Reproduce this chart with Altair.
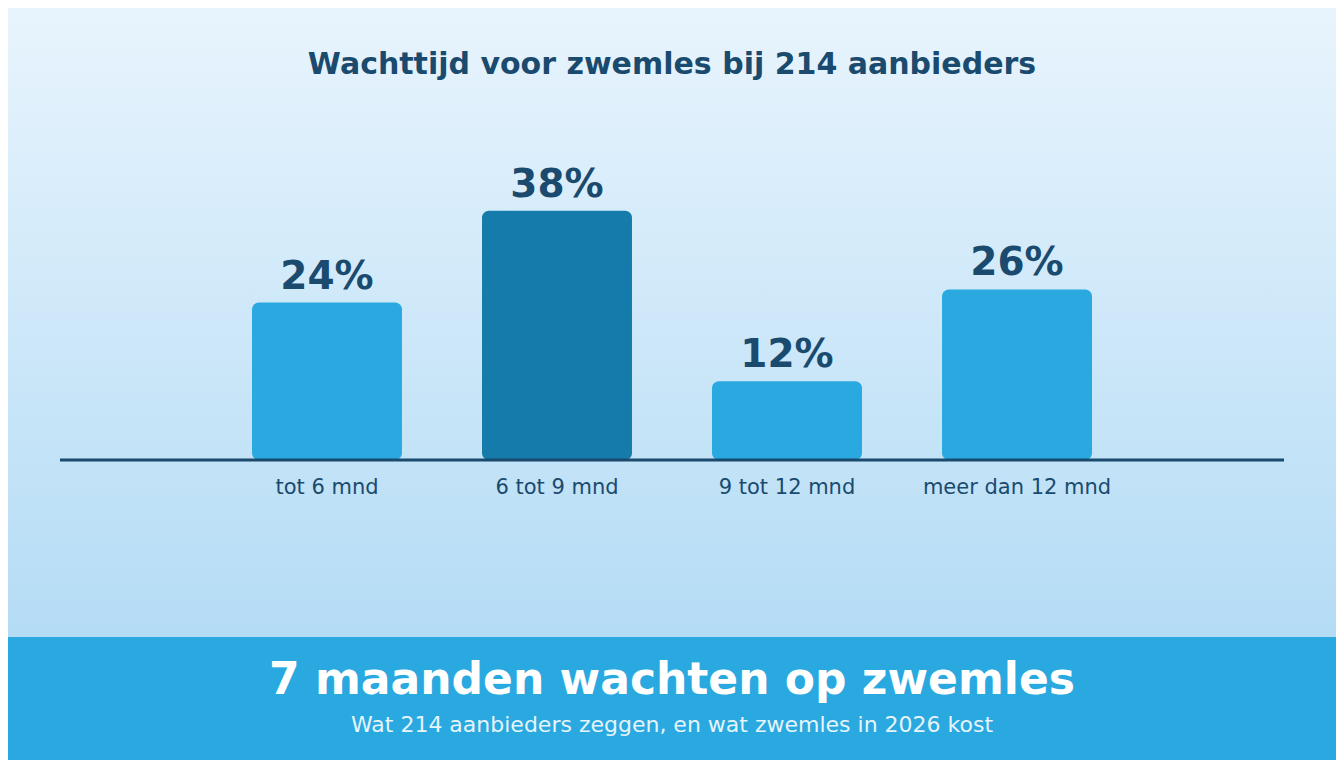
import pandas as pd
import altair as alt

# data
categories = ["tot 6 mnd", "6 tot 9 mnd", "9 tot 12 mnd", "meer dan 12 mnd"]
shares = [24, 38, 12, 26]
tone = ["normaal", "hoog", "normaal", "normaal"]

title_text = "Wachttijd voor zwemles bij 214 aanbieders"
headline = "7 maanden wachten op zwemles"
subline = "Wat 214 aanbieders zeggen, en wat zwemles in 2026 kost"

W, H = 1328, 752
CX = W / 2
DARK = "#1a4a6e"

df = pd.DataFrame({"cat": categories, "share": shares, "tone": tone})
df["label"] = df["share"].astype(str) + "%"
one = pd.DataFrame({"k": [0]})

x_enc = alt.X("cat:N", sort=categories, axis=None,
              scale=alt.Scale(paddingInner=0.348, paddingOuter=0, range=[244, 1084]))
y_scale = alt.Scale(domain=[-45.73, 68.9], nice=False, zero=False)

gradient = alt.LinearGradient(
    gradient="linear",
    stops=[alt.GradientStop(color="#e8f4fd", offset=0),
           alt.GradientStop(color="#b4dcf5", offset=0.836),
           alt.GradientStop(color="#b4dcf5", offset=1)],
    x1=0, x2=0, y1=0, y2=1,
)

bg = alt.Chart(one).mark_rect(fill=gradient).encode(
    x=alt.value(0), x2=alt.value("width"), y=alt.value(0), y2=alt.value("height")
)

banner = alt.Chart(one).mark_rect(fill="#29a9e0").encode(
    x=alt.value(0), x2=alt.value("width"), y=alt.value(629), y2=alt.value("height")
)

bars = alt.Chart(df).mark_bar(cornerRadius=7).encode(
    x=x_enc,
    y=alt.Y("share:Q", scale=y_scale, axis=None),
    y2=alt.Y2(datum=0),
    color=alt.Color("tone:N", scale=alt.Scale(domain=["normaal", "hoog"],
                                              range=["#29a9e0", "#147bab"]), legend=None),
)

baseline = alt.Chart(one).mark_rule(color=DARK, strokeWidth=3).encode(
    x=alt.value(52), x2=alt.value(1276), y=alt.Y(datum=0, scale=y_scale, axis=None)
)

values = alt.Chart(df).mark_text(
    font="DejaVu Sans", fontWeight="bold", fontSize=39, color=DARK,
    baseline="alphabetic", dy=-14
).encode(x=x_enc, y=alt.Y("share:Q", scale=y_scale, axis=None), text="label:N")

cat_labels = alt.Chart(df).mark_text(
    font="DejaVu Sans", fontSize=21, color=DARK, baseline="alphabetic", dy=34
).encode(x=x_enc, y=alt.Y(datum=0, scale=y_scale, axis=None), text="cat:N")

title = alt.Chart(pd.DataFrame({"t": [title_text]})).mark_text(
    font="DejaVu Sans", fontWeight="bold", fontSize=30, color=DARK, baseline="alphabetic"
).encode(x=alt.value(CX), y=alt.value(66), text="t:N")

head = alt.Chart(pd.DataFrame({"t": [headline]})).mark_text(
    font="DejaVu Sans", fontWeight="bold", fontSize=44, color="white", baseline="alphabetic"
).encode(x=alt.value(CX), y=alt.value(686), text="t:N")

sub = alt.Chart(pd.DataFrame({"t": [subline]})).mark_text(
    font="DejaVu Sans", fontSize=22, color="#e6f4fc", baseline="alphabetic"
).encode(x=alt.value(CX), y=alt.value(724), text="t:N")

chart = alt.layer(bg, banner, bars, baseline, values, cat_labels, title, head, sub).properties(
    width=W, height=H, autosize=alt.AutoSizeParams(type="none"), padding=0,
    background="#e8f4fd",
).configure_view(stroke=None)

chart.save("out.html", embed_options={"renderer": "svg", "actions": False})
